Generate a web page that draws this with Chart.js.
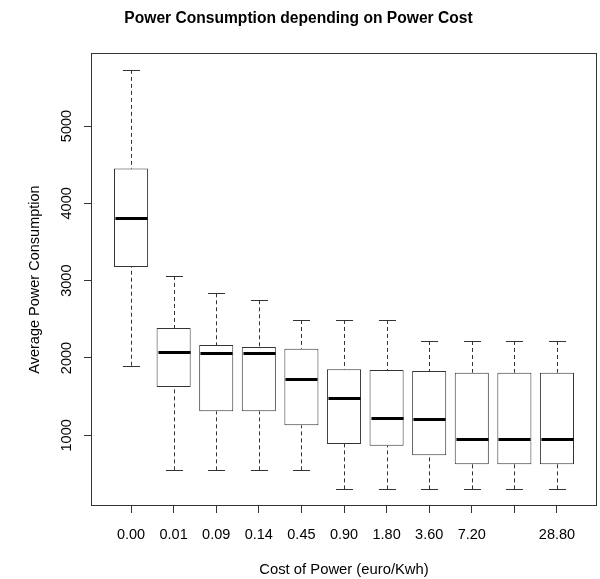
<!DOCTYPE html>
<html><head><meta charset="utf-8">
<script src="https://cdn.jsdelivr.net/npm/chart.js@4"></script>
<style>html,body{margin:0;padding:0;background:#fff}#wrap{width:600px;height:579px;position:relative}</style>
</head><body><div id="wrap"><canvas id="c"></canvas></div>
<script>
const categories = ['0.00','0.01','0.09','0.14','0.45','0.90','1.80','3.60','7.20','14.40','28.80'];
const tickLabels = ['0.00','0.01','0.09','0.14','0.45','0.90','1.80','3.60','7.20','','28.80'];
const whiskerLow  = [1900, 547, 547, 547, 547, 301, 301, 301, 301, 301, 301];
const q1          = [3177,1625,1310,1310,1129, 887, 865, 741, 625, 625, 625];
const median      = [3815,2082,2069,2069,1732,1483,1224,1207, 952, 952, 952];
const q3          = [4449,2388,2168,2142,2120,1854,1845,1832,1810,1810,1810];
const whiskerHigh = [5726,3061,2837,2746,2492,2492,2492,2220,2220,2220,2220];
const yTicks = [1000,2000,3000,4000,5000];

const FONT = "'Liberation Sans', Arial, Helvetica, sans-serif";
Chart.defaults.font.family = FONT;
Chart.defaults.color = '#000';

const boxParts = {
  id: 'boxParts',
  afterDatasetsDraw(chart) {
    const {ctx, scales: {x, y}} = chart;
    const half = x.getPixelForValue(1.4) - x.getPixelForValue(1);
    const capHalf = half / 2;
    ctx.save();
    categories.forEach((c, i) => {
      const cx = Math.round(x.getPixelForValue(i + 1)) + 0.5;
      ctx.strokeStyle = '#333'; ctx.lineWidth = 1; ctx.setLineDash([4, 3]);
      ctx.beginPath();
      ctx.moveTo(cx, y.getPixelForValue(whiskerHigh[i])); ctx.lineTo(cx, y.getPixelForValue(q3[i]));
      ctx.moveTo(cx, y.getPixelForValue(whiskerLow[i])); ctx.lineTo(cx, y.getPixelForValue(q1[i]));
      ctx.stroke();
      ctx.setLineDash([]);
      ctx.beginPath();
      [whiskerHigh[i], whiskerLow[i]].forEach(v => {
        const py = Math.round(y.getPixelForValue(v)) + 0.5;
        ctx.moveTo(cx - capHalf, py); ctx.lineTo(cx + capHalf, py);
      });
      ctx.stroke();
      ctx.lineWidth = 3; ctx.strokeStyle = '#000';
      const pm = Math.round(y.getPixelForValue(median[i])) + 0.5;
      ctx.beginPath(); ctx.moveTo(cx - half + 1, pm); ctx.lineTo(cx + half - 1, pm); ctx.stroke();
    });
    ctx.restore();
  },
  afterDraw(chart) {
    const {ctx, chartArea: a} = chart;
    ctx.save();
    ctx.strokeStyle = '#333'; ctx.lineWidth = 1;
    ctx.strokeRect(Math.round(a.left) + 0.5, Math.round(a.top) + 0.5, Math.round(a.right - a.left) - 1, Math.round(a.bottom - a.top) - 1);
    ctx.restore();
  }
};

new Chart(document.getElementById('c'), {
  type: 'bar',
  data: {
    datasets: [{
      data: categories.map((c, i) => ({x: i + 1, y: [q1[i], q3[i]]})),
      backgroundColor: '#fff', borderColor: '#333', borderWidth: 1, borderSkipped: false,
      barPercentage: 1, categoryPercentage: 0.8
    }]
  },
  options: {
    responsive: true, maintainAspectRatio: false, animation: false,
    layout: {padding: {left: 0, right: 3, top: 0, bottom: 0}},
    plugins: {
      legend: {display: false}, tooltip: {enabled: false},
      title: {display: true, text: 'Power Consumption depending on Power Cost', color: '#000',
        font: {size: 15.6, weight: 'bold'}, padding: {top: 9, bottom: 25.3}}
    },
    scales: {
      x: {
        type: 'linear', min: 0.06, max: 11.94, offset: false,
        afterBuildTicks: s => { s.ticks = categories.map((c, i) => ({value: i + 1})); },
        ticks: {callback: (v, idx) => tickLabels[idx], font: {size: 14.5}, padding: 13.5, autoSkip: false, maxRotation: 0, minRotation: 0},
        grid: {drawOnChartArea: false, offset: false, tickLength: 7, color: '#333'},
        border: {display: false},
        title: {display: true, text: 'Cost of Power (euro/Kwh)', font: {size: 14.8}, padding: {top: 0, bottom: 0}},
        afterFit: s => { s.height = 73; }
      },
      y: {
        min: 86, max: 5944,
        afterBuildTicks: s => { s.ticks = yTicks.map(v => ({value: v})); },
        ticks: {font: {size: 14.5}, minRotation: 90, maxRotation: 90, crossAlign: 'center', padding: 1, callback: v => String(v)},
        grid: {drawOnChartArea: false, tickLength: 7, color: '#333'},
        border: {display: false},
        title: {display: true, text: 'Average Power Consumption', font: {size: 14.5}, padding: {top: 26, bottom: 0}},
        afterFit: s => { s.width = 91; }
      }
    }
  },
  plugins: [boxParts]
});
</script>
</body></html>
